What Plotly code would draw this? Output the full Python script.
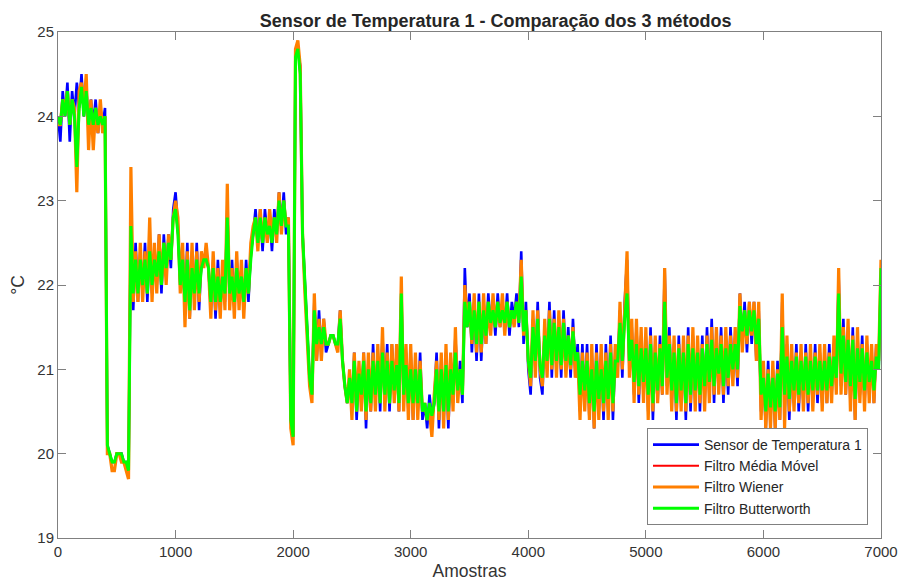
import plotly.graph_objects as go

# sample index of the plotted readings (every 20th sample of 7000)
amostras = list(range(0, 7001, 20))

sensor_temp_1 = [
    24.0, 23.7, 24.3, 24.0, 24.4, 23.7, 24.3, 24.0, 24.4, 24.1, 24.5, 24.0, 24.4, 23.8, 24.2, 23.9, 24.2, 23.8, 24.1, 23.9, 24.1, 20.1, 20.0, 19.9, 19.9,
    20.0, 20.0, 20.0, 19.9, 19.9, 19.8, 22.8, 21.7, 22.5, 21.8, 22.4, 21.9, 22.5, 21.8, 22.5, 21.9, 22.4, 22.0, 22.6, 21.9, 22.6, 22.1, 22.6, 22.2, 22.9,
    23.1, 22.7, 22.0, 22.4, 21.7, 22.5, 21.6, 22.4, 21.8, 22.5, 21.7, 22.3, 22.3, 22.4, 22.2, 21.7, 22.3, 21.6, 22.3, 21.7, 22.2, 21.8, 22.9, 21.8, 22.3,
    21.7, 22.3, 21.8, 22.2, 21.7, 22.3, 21.8, 22.4, 22.6, 22.9, 22.5, 22.9, 22.4, 22.9, 22.6, 22.8, 22.4, 22.9, 22.6, 23.1, 22.7, 23.1, 22.6, 22.8, 20.4,
    20.2, 24.7, 24.8, 24.6, 22.6, 22.0, 21.4, 20.9, 20.7, 21.8, 21.1, 21.7, 21.2, 21.6, 21.2, 21.3, 21.4, 21.4, 21.3, 21.3, 21.7, 21.1, 20.8, 20.6, 20.9,
    20.5, 21.2, 20.4, 21.0, 20.6, 21.2, 20.3, 21.1, 20.5, 21.3, 20.6, 21.2, 20.5, 21.4, 20.6, 21.3, 20.5, 21.3, 20.7, 21.2, 20.5, 21.9, 20.6, 21.2, 20.5,
    21.2, 20.4, 21.1, 20.5, 21.2, 20.4, 20.6, 20.3, 20.7, 20.4, 20.6, 21.2, 20.3, 21.1, 20.4, 21.2, 20.3, 21.1, 20.6, 21.4, 20.7, 21.1, 20.6, 22.2, 21.5,
    21.9, 21.2, 21.8, 21.1, 21.9, 21.1, 21.8, 21.3, 21.9, 21.5, 21.8, 21.4, 21.9, 21.5, 21.8, 21.5, 21.9, 21.4, 21.8, 21.6, 21.9, 21.5, 22.4, 21.3, 21.8,
    21.0, 20.7, 21.6, 21.0, 21.8, 20.9, 20.7, 21.5, 21.0, 21.8, 20.9, 21.7, 21.0, 21.6, 20.9, 21.7, 21.0, 21.5, 20.9, 21.6, 21.0, 21.3, 20.5, 21.3, 20.6,
    21.3, 20.4, 21.2, 20.3, 21.3, 20.5, 21.2, 20.4, 21.3, 20.5, 21.4, 20.4, 21.2, 21.0, 21.7, 20.9, 21.8, 22.3, 21.0, 21.5, 20.7, 21.5, 20.6, 21.4, 20.7,
    21.4, 20.5, 21.5, 20.4, 21.3, 20.6, 21.4, 20.7, 22.2, 20.8, 21.5, 20.6, 21.3, 20.4, 21.4, 20.6, 21.3, 20.4, 21.5, 20.5, 21.4, 20.6, 21.3, 20.5, 21.4,
    20.6, 21.5, 20.7, 21.6, 20.6, 21.4, 20.8, 21.5, 20.6, 21.4, 20.7, 21.5, 20.9, 21.4, 20.8, 21.9, 21.3, 21.8, 21.2, 21.8, 21.3, 21.8, 21.1, 21.7, 20.5,
    21.0, 20.3, 21.1, 20.4, 21.0, 20.3, 21.1, 20.4, 21.8, 20.5, 21.3, 20.4, 21.2, 20.6, 21.3, 20.5, 21.2, 20.6, 21.3, 20.5, 21.2, 20.6, 21.3, 20.6, 21.2,
    20.6, 21.2, 20.6, 21.3, 20.7, 21.3, 20.8, 22.1, 20.8, 21.6, 20.7, 21.5, 20.6, 21.5, 20.4, 21.4, 20.7, 21.4, 20.6, 21.3, 20.7, 21.2, 20.6, 21.3, 21.0,
    22.1,
]

# moving-average output: it runs inside the Butterworth curve and is fully hidden by it
filtro_media_movel = [
    24.0, 23.9, 24.2, 24.0, 24.3, 23.9, 24.2, 24.0, 23.4, 24.1, 24.35, 24.0, 24.3, 23.9, 24.1, 23.9, 24.1, 23.9, 24.0, 23.9, 24.0, 20.1, 20.0, 19.9, 19.9,
    20.0, 20.0, 20.0, 19.9, 19.9, 19.8, 22.7, 21.9, 22.3, 21.9, 22.3, 22.0, 22.3, 21.9, 22.4, 22.0, 22.3, 22.1, 22.4, 22.0, 22.5, 22.2, 22.5, 22.3, 22.8,
    22.9, 22.6, 22.0, 22.3, 21.8, 22.3, 21.7, 22.2, 21.9, 22.3, 21.9, 22.2, 22.3, 22.3, 22.2, 21.8, 22.2, 21.8, 22.1, 21.8, 22.1, 21.9, 22.8, 21.9, 22.1,
    21.8, 22.2, 21.9, 22.1, 21.8, 22.2, 21.9, 22.3, 22.6, 22.8, 22.5, 22.8, 22.5, 22.8, 22.6, 22.7, 22.5, 22.8, 22.6, 23.0, 22.7, 23.0, 22.7, 22.7, 20.4,
    20.2, 24.7, 24.8, 24.5, 22.6, 22.0, 21.4, 20.9, 20.7, 21.7, 21.3, 21.5, 21.3, 21.5, 21.3, 21.3, 21.4, 21.4, 21.3, 21.3, 21.6, 21.1, 20.8, 20.6, 20.9,
    20.6, 21.1, 20.5, 20.95, 20.7, 21.1, 20.5, 21.0, 20.6, 21.1, 20.7, 21.1, 20.6, 21.2, 20.7, 21.1, 20.6, 21.1, 20.75, 21.05, 20.6, 21.9, 20.7, 21.05, 20.6,
    21.0, 20.6, 21.0, 20.6, 21.0, 20.5, 20.6, 20.4, 20.6, 20.45, 20.6, 21.0, 20.5, 21.0, 20.5, 21.05, 20.5, 21.0, 20.7, 21.2, 20.75, 21.0, 20.7, 21.8, 21.5,
    21.8, 21.35, 21.7, 21.3, 21.8, 21.3, 21.7, 21.4, 21.8, 21.55, 21.7, 21.5, 21.8, 21.55, 21.7, 21.55, 21.8, 21.5, 21.7, 21.6, 21.8, 21.55, 22.1, 21.45, 21.7,
    21.1, 20.9, 21.5, 21.1, 21.6, 21.05, 20.9, 21.4, 21.1, 21.6, 21.05, 21.55, 21.1, 21.5, 21.05, 21.55, 21.1, 21.4, 21.05, 21.45, 21.1, 21.2, 20.7, 21.1, 20.75,
    21.1, 20.6, 21.0, 20.5, 21.1, 20.65, 21.0, 20.6, 21.1, 20.65, 21.2, 20.6, 21.1, 21.1, 21.55, 21.1, 21.6, 21.9, 21.1, 21.35, 20.85, 21.3, 20.8, 21.25, 20.85,
    21.25, 20.7, 21.3, 20.6, 21.2, 20.75, 21.25, 20.8, 21.8, 20.9, 21.3, 20.75, 21.2, 20.6, 21.25, 20.75, 21.2, 20.6, 21.3, 20.7, 21.25, 20.75, 21.2, 20.7, 21.25,
    20.8, 21.3, 20.85, 21.35, 20.8, 21.25, 20.95, 21.3, 20.8, 21.25, 20.9, 21.3, 21.0, 21.3, 21.0, 21.75, 21.45, 21.7, 21.4, 21.7, 21.45, 21.7, 21.3, 21.6, 20.7,
    20.9, 20.5, 20.95, 20.55, 20.9, 20.5, 20.95, 20.55, 21.5, 20.7, 21.15, 20.65, 21.1, 20.75, 21.15, 20.7, 21.1, 20.75, 21.15, 20.7, 21.1, 20.75, 21.15, 20.75, 21.1,
    20.75, 21.1, 20.75, 21.15, 20.8, 21.15, 20.9, 21.9, 20.95, 21.4, 20.85, 21.35, 20.8, 21.35, 20.65, 21.25, 20.85, 21.25, 20.75, 21.2, 20.85, 21.1, 20.75, 21.15, 21.0,
    22.2,
]

filtro_wiener = [
    23.9, 23.9, 24.2, 24.1, 24.3, 23.9, 24.2, 24.1, 23.1, 24.3, 24.4, 24.1, 24.5, 23.6, 24.2, 23.6, 24.1, 23.8, 24.2, 23.8, 24.0, 20.0, 20.0, 19.8, 19.8,
    20.0, 20.0, 19.9, 19.9, 19.8, 19.7, 23.4, 21.8, 22.4, 21.8, 22.5, 21.8, 22.4, 21.9, 22.8, 21.8, 22.5, 21.9, 22.6, 22.0, 22.5, 22.0, 22.6, 22.3, 22.8,
    23.0, 22.8, 21.9, 22.5, 21.5, 22.4, 21.6, 22.5, 21.7, 22.4, 21.8, 22.4, 22.2, 22.5, 22.2, 21.6, 22.4, 21.7, 22.2, 21.6, 22.3, 21.7, 23.2, 21.7, 22.2,
    21.6, 22.4, 21.7, 22.3, 21.6, 22.2, 21.9, 22.5, 22.7, 22.8, 22.4, 22.9, 22.5, 22.8, 22.5, 22.9, 22.6, 22.8, 22.5, 23.1, 22.6, 23.0, 22.7, 22.8, 20.3,
    20.1, 24.8, 24.9, 24.6, 22.6, 21.9, 21.3, 20.8, 20.6, 21.9, 21.1, 21.6, 21.1, 21.6, 21.3, 21.3, 21.4, 21.4, 21.3, 21.2, 21.7, 21.1, 20.8, 20.6, 21.0,
    20.4, 21.2, 20.5, 21.1, 20.5, 21.2, 20.4, 21.2, 20.5, 21.2, 20.5, 21.3, 20.6, 21.5, 20.5, 21.2, 20.6, 21.3, 20.6, 21.3, 20.5, 22.1, 20.5, 21.3, 20.4,
    21.3, 20.4, 21.2, 20.4, 21.1, 20.5, 20.6, 20.4, 20.5, 20.2, 20.7, 21.1, 20.4, 21.2, 20.3, 21.3, 20.4, 21.2, 20.5, 21.5, 20.6, 21.0, 20.7, 22.0, 21.6,
    21.8, 21.3, 21.9, 21.2, 21.8, 21.2, 21.9, 21.3, 21.8, 21.4, 21.9, 21.5, 21.8, 21.5, 21.9, 21.4, 21.8, 21.5, 21.7, 21.5, 21.8, 21.6, 22.3, 21.4, 21.7,
    21.1, 20.8, 21.7, 20.9, 21.7, 21.0, 20.8, 21.6, 20.9, 21.7, 21.0, 21.6, 20.9, 21.7, 21.0, 21.6, 20.9, 21.4, 21.0, 21.5, 20.9, 21.2, 20.4, 21.2, 20.5,
    21.2, 20.4, 21.3, 20.3, 21.2, 20.4, 21.3, 20.5, 21.2, 20.4, 21.3, 20.5, 21.3, 20.9, 21.8, 21.0, 21.7, 22.4, 20.9, 21.6, 20.6, 21.6, 20.7, 21.5, 20.6,
    21.5, 20.4, 21.4, 20.5, 21.4, 20.6, 21.3, 20.7, 22.2, 20.7, 21.4, 20.5, 21.4, 20.5, 21.3, 20.5, 21.4, 20.5, 21.4, 20.6, 21.5, 20.5, 21.4, 20.6, 21.3,
    20.5, 21.4, 20.6, 21.5, 20.7, 21.5, 20.7, 21.4, 20.7, 21.5, 20.8, 21.4, 20.8, 21.5, 20.9, 21.9, 21.2, 21.7, 21.3, 21.8, 21.4, 21.8, 21.1, 21.8, 20.4,
    21.1, 20.3, 21.0, 20.3, 21.1, 20.3, 21.0, 20.4, 21.9, 20.3, 21.4, 20.5, 21.3, 20.5, 21.2, 20.6, 21.3, 20.5, 21.2, 20.6, 21.3, 20.5, 21.2, 20.7, 21.3,
    20.5, 21.3, 20.6, 21.2, 20.6, 21.4, 20.7, 22.2, 20.7, 21.5, 20.7, 21.6, 20.5, 21.4, 20.4, 21.5, 20.6, 21.3, 20.5, 21.4, 20.6, 21.3, 20.6, 21.3, 21.1,
    22.3,
]

filtro_butterworth = [
    24.0, 23.9, 24.2, 24.0, 24.3, 23.9, 24.2, 24.0, 23.4, 24.1, 24.35, 24.0, 24.3, 23.9, 24.1, 23.9, 24.1, 23.9, 24.0, 23.9, 24.0, 20.1, 20.0, 19.9, 19.9,
    20.0, 20.0, 20.0, 19.9, 19.9, 19.8, 22.7, 21.9, 22.3, 21.9, 22.3, 22.0, 22.3, 21.9, 22.4, 22.0, 22.3, 22.1, 22.4, 22.0, 22.5, 22.2, 22.5, 22.3, 22.8,
    22.9, 22.6, 22.0, 22.3, 21.8, 22.3, 21.7, 22.2, 21.9, 22.3, 21.9, 22.2, 22.3, 22.3, 22.2, 21.8, 22.2, 21.8, 22.1, 21.8, 22.1, 21.9, 22.8, 21.9, 22.1,
    21.8, 22.2, 21.9, 22.1, 21.8, 22.2, 21.9, 22.3, 22.6, 22.8, 22.5, 22.8, 22.5, 22.8, 22.6, 22.7, 22.5, 22.8, 22.6, 23.0, 22.7, 23.0, 22.7, 22.7, 20.4,
    20.2, 24.7, 24.8, 24.5, 22.6, 22.0, 21.4, 20.9, 20.7, 21.7, 21.3, 21.5, 21.3, 21.5, 21.3, 21.3, 21.4, 21.4, 21.3, 21.3, 21.6, 21.1, 20.8, 20.6, 20.9,
    20.6, 21.1, 20.5, 20.95, 20.7, 21.1, 20.5, 21.0, 20.6, 21.1, 20.7, 21.1, 20.6, 21.2, 20.7, 21.1, 20.6, 21.1, 20.75, 21.05, 20.6, 21.9, 20.7, 21.05, 20.6,
    21.0, 20.6, 21.0, 20.6, 21.0, 20.5, 20.6, 20.4, 20.6, 20.45, 20.6, 21.0, 20.5, 21.0, 20.5, 21.05, 20.5, 21.0, 20.7, 21.2, 20.75, 21.0, 20.7, 21.8, 21.5,
    21.8, 21.35, 21.7, 21.3, 21.8, 21.3, 21.7, 21.4, 21.8, 21.55, 21.7, 21.5, 21.8, 21.55, 21.7, 21.55, 21.8, 21.5, 21.7, 21.6, 21.8, 21.55, 22.1, 21.45, 21.7,
    21.1, 20.9, 21.5, 21.1, 21.6, 21.05, 20.9, 21.4, 21.1, 21.6, 21.05, 21.55, 21.1, 21.5, 21.05, 21.55, 21.1, 21.4, 21.05, 21.45, 21.1, 21.2, 20.7, 21.1, 20.75,
    21.1, 20.6, 21.0, 20.5, 21.1, 20.65, 21.0, 20.6, 21.1, 20.65, 21.2, 20.6, 21.1, 21.1, 21.55, 21.1, 21.6, 21.9, 21.1, 21.35, 20.85, 21.3, 20.8, 21.25, 20.85,
    21.25, 20.7, 21.3, 20.6, 21.2, 20.75, 21.25, 20.8, 21.8, 20.9, 21.3, 20.75, 21.2, 20.6, 21.25, 20.75, 21.2, 20.6, 21.3, 20.7, 21.25, 20.75, 21.2, 20.7, 21.25,
    20.8, 21.3, 20.85, 21.35, 20.8, 21.25, 20.95, 21.3, 20.8, 21.25, 20.9, 21.3, 21.0, 21.3, 21.0, 21.75, 21.45, 21.7, 21.4, 21.7, 21.45, 21.7, 21.3, 21.6, 20.7,
    20.9, 20.5, 20.95, 20.55, 20.9, 20.5, 20.95, 20.55, 21.5, 20.7, 21.15, 20.65, 21.1, 20.75, 21.15, 20.7, 21.1, 20.75, 21.15, 20.7, 21.1, 20.75, 21.15, 20.75, 21.1,
    20.75, 21.1, 20.75, 21.15, 20.8, 21.15, 20.9, 21.9, 20.95, 21.4, 20.85, 21.35, 20.8, 21.35, 20.65, 21.25, 20.85, 21.25, 20.75, 21.2, 20.85, 21.1, 20.75, 21.15, 21.0,
    22.2,
]

nomes = ["Sensor de Temperatura 1", "Filtro Média Móvel", "Filtro Wiener", "Filtro Butterworth"]
series = [sensor_temp_1, filtro_media_movel, filtro_wiener, filtro_butterworth]
cores = ["#0000FF", "#FF0000", "#FF7F00", "#00FF00"]
larguras = [2.6, 2.0, 3.2, 3.0]

x_ticks = [0, 1000, 2000, 3000, 4000, 5000, 6000, 7000]
y_ticks = [19, 20, 21, 22, 23, 24, 25]

fig = go.Figure()
for nome, ys, cor, lw in zip(nomes, series, cores, larguras):
    n = min(len(ys), len(amostras))
    fig.add_trace(go.Scatter(x=amostras[:n], y=ys[:n], mode="lines", name=nome,
                             line=dict(color=cor, width=lw)))

FONT = "Liberation Sans, Arial, Helvetica, sans-serif"
axis_common = dict(showline=True, linecolor="#808080", linewidth=1, mirror="allticks",
                   ticks="inside", ticklen=8, tickcolor="#808080", showgrid=False,
                   zeroline=False, automargin=False,
                   tickfont=dict(family=FONT, size=15, color="#333333"))

fig.update_layout(
    width=899, height=581,
    margin=dict(l=58, r=18, t=32, b=43),
    paper_bgcolor="white", plot_bgcolor="white",
    title=dict(text="<b>Sensor de Temperatura 1 - Comparação dos 3 métodos</b>",
               x=(241 + 715) / 2 / 899, xref="paper", xanchor="center",
               y=1 - 21 / 581, yanchor="middle",
               font=dict(family=FONT, size=18, color="#262626")),
    xaxis=dict(range=[0, 7000], tickvals=x_ticks, ticktext=[str(v) for v in x_ticks],
               title=dict(text="Amostras", font=dict(family=FONT, size=17.5, color="#333333"), standoff=9),
               **axis_common),
    yaxis=dict(range=[19, 25], tickvals=y_ticks, ticktext=[str(v) for v in y_ticks],
               title=dict(text="°C", font=dict(family=FONT, size=17.5, color="#333333"), standoff=8),
               **axis_common),
    legend=dict(x=(868 - 58) / 823, y=(538 - 525) / 506, xanchor="right", yanchor="bottom",
                bgcolor="white", bordercolor="#808080", borderwidth=1,
                font=dict(family=FONT, size=14, color="#262626"), tracegroupgap=0,
                itemwidth=46),
    showlegend=True,
)

fig.write_html("out.html")
